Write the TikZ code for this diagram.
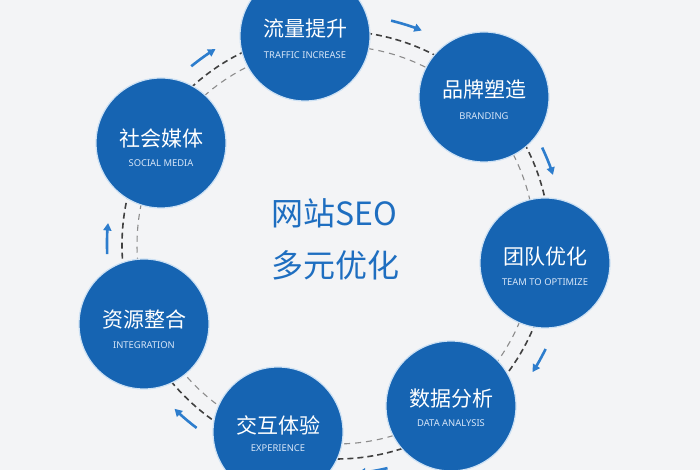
\documentclass[tikz,border=0pt]{standalone}
\usepackage{fontspec}
\setmainfont{Noto Sans}
\newfontfamily\cjk{Noto Sans CJK SC}
\usetikzlibrary{arrows.meta}
\definecolor{bg}{RGB}{243,244,246}
\definecolor{cblue}{RGB}{22,100,178}
\definecolor{tblue}{RGB}{30,110,192}
\definecolor{ablue}{RGB}{45,125,205}
\definecolor{etext}{RGB}{215,230,248}
\definecolor{rim}{RGB}{205,225,244}
\begin{document}
\begin{tikzpicture}[x=1pt,y=1pt,
  bubble/.style={circle, fill=cblue, draw=rim, line width=1.2pt, minimum size=130pt, inner sep=0pt},
  cn/.style={font=\cjk\fontsize{21}{21}\selectfont, text=white, inner sep=0pt},
  en/.style={font=\fontsize{9.4}{9.4}\selectfont, text=etext, inner sep=0pt},
  ctr/.style={font=\cjk\fontsize{32}{32}\selectfont, text=tblue, inner sep=0pt, anchor=west},
  outerdash/.style={draw=black!75, line width=1.6pt, dash pattern=on 6pt off 4pt},
  innerdash/.style={draw=black!45, line width=1.1pt, dash pattern=on 6pt off 5pt},
  flow/.style={draw=ablue, line width=2.6pt, -{Triangle[length=7.5pt,width=8pt]}}]
\useasboundingbox (0,0) rectangle (700,470);
\fill[bg] (0,0) rectangle (700,470);
\coordinate (c) at (336,225);
% dashed rings
\draw[outerdash] (c) circle[radius=214pt];
\draw[innerdash] (c) circle[radius=199pt];
% arrows (clockwise)
\draw[flow] ([shift={(129:230pt)}]c) arc[start angle=129, end angle=121.6, radius=230pt];
\draw[flow] ([shift={(76.2:231pt)}]c) arc[start angle=76.2, end angle=68.2, radius=231pt];
\draw[flow] ([shift={(25.3:228pt)}]c) arc[start angle=25.3, end angle=17.9, radius=228pt];
\draw[flow] ([shift={(-26.4:234pt)}]c) arc[start angle=-26.4, end angle=-32.9, radius=234pt];
\draw[flow] ([shift={(-77:229pt)}]c) arc[start angle=-77, end angle=-84.5, radius=229pt];
\draw[flow] ([shift={(-127.3:230pt)}]c) arc[start angle=-127.3, end angle=-134.6, radius=230pt];
\draw[flow] ([shift={(182.3:229pt)}]c) arc[start angle=182.3, end angle=174.5, radius=229pt];
% bubbles
\node[bubble] (top) at (305,434) {};
\node[bubble] (brand) at (484,373) {};
\node[bubble] (team) at (545,207) {};
\node[bubble] (data) at (451,64) {};
\node[bubble] (exp) at (278,38) {};
\node[bubble] (integ) at (144,146) {};
\node[bubble] (social) at (161,327) {};
% labels
\node[cn] (topcn) at ([yshift=7pt]top.center) {流量提升};
\node[en] (topen) at ([yshift=-19pt]top.center) {TRAFFIC INCREASE};
\node[cn] (brandcn) at ([yshift=7pt]brand.center) {品牌塑造};
\node[en] (branden) at ([yshift=-19pt]brand.center) {BRANDING};
\node[cn] (teamcn) at ([yshift=6pt]team.center) {团队优化};
\node[en] (teamen) at ([yshift=-19pt]team.center) {TEAM TO OPTIMIZE};
\node[cn] (datacn) at ([yshift=7pt]data.center) {数据分析};
\node[en] (dataen) at ([yshift=-17pt]data.center) {DATA ANALYSIS};
\node[cn] (expcn) at ([yshift=7pt]exp.center) {交互体验};
\node[en] (expen) at ([yshift=-16pt]exp.center) {EXPERIENCE};
\node[cn] (integcn) at ([yshift=4pt]integ.center) {资源整合};
\node[en] (integen) at ([yshift=-21pt]integ.center) {INTEGRATION};
\node[cn] (socialcn) at ([yshift=5pt]social.center) {社会媒体};
\node[en] (socialen) at ([yshift=-20pt]social.center) {SOCIAL MEDIA};
% centre title
\node[ctr] (t1) at (271,257) {网站SEO};
\node[ctr] (t2) at (271,205) {多元优化};
\end{tikzpicture}
\end{document}
